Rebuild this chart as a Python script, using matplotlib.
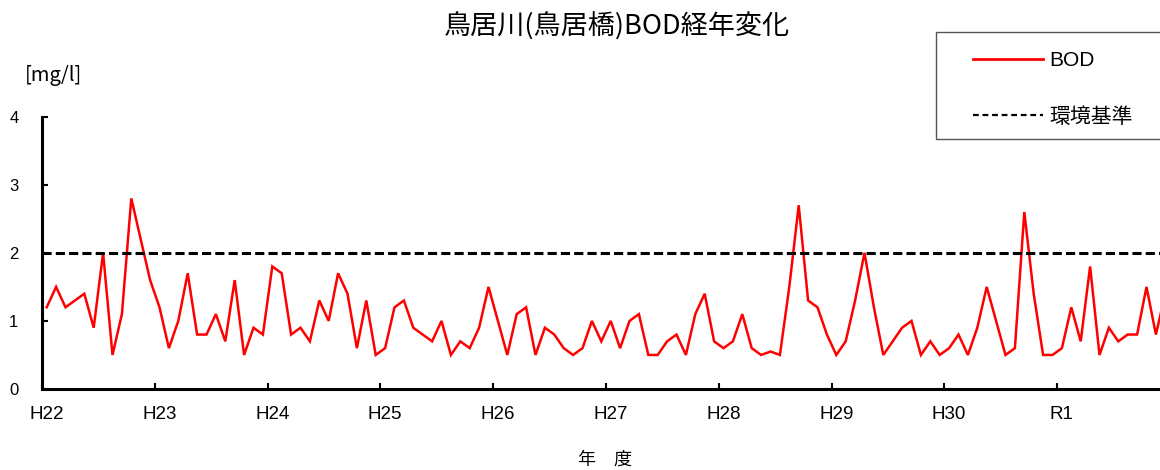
import matplotlib
matplotlib.use("Agg")
import matplotlib.pyplot as plt
from matplotlib.patches import Rectangle

plt.rcParams['font.family'] = ['Liberation Sans', 'Noto Sans CJK JP']

# ---- data ----
year_labels = ["H22", "H23", "H24", "H25", "H26", "H27", "H28", "H29", "H30", "R1"]
bod = [
    1.2, 1.5, 1.2, 1.3, 1.4, 0.9, 2.0, 0.5, 1.1, 2.8, 2.2, 1.6,   # H22
    1.2, 0.6, 1.0, 1.7, 0.8, 0.8, 1.1, 0.7, 1.6, 0.5, 0.9, 0.8,   # H23
    1.8, 1.7, 0.8, 0.9, 0.7, 1.3, 1.0, 1.7, 1.4, 0.6, 1.3, 0.5,   # H24
    0.6, 1.2, 1.3, 0.9, 0.8, 0.7, 1.0, 0.5, 0.7, 0.6, 0.9, 1.5,   # H25
    1.0, 0.5, 1.1, 1.2, 0.5, 0.9, 0.8, 0.6, 0.5, 0.6, 1.0, 0.7,   # H26
    1.0, 0.6, 1.0, 1.1, 0.5, 0.5, 0.7, 0.8, 0.5, 1.1, 1.4, 0.7,   # H27
    0.6, 0.7, 1.1, 0.6, 0.5, 0.55, 0.5, 1.5, 2.7, 1.3, 1.2, 0.8,  # H28
    0.5, 0.7, 1.3, 2.0, 1.2, 0.5, 0.7, 0.9, 1.0, 0.5, 0.7, 0.5,   # H29
    0.6, 0.8, 0.5, 0.9, 1.5, 1.0, 0.5, 0.6, 2.6, 1.4, 0.5, 0.5,   # H30
    0.6, 1.2, 0.7, 1.8, 0.5, 0.9, 0.7, 0.8, 0.8, 1.5, 0.8, 1.4,   # R1
]
standard = 2.0
months_per_year = 12

W, H = 1160, 470
fig = plt.figure(figsize=(W / 100, H / 100), dpi=100)

ax_left, ax_bottom = 42, 389
ax_w, ax_h = 1128, 272.3
ax = fig.add_axes([ax_left / W, (H - ax_bottom) / H, ax_w / W, ax_h / H])

n = len(bod)
x = list(range(n))
line_bod, = ax.plot(x, bod, color='#FF0000', lw=1.8, label='BOD', solid_joinstyle='miter')
line_std, = ax.plot([-0.5, n - 0.5], [standard, standard], color='black', lw=2.2,
                    dashes=(3.0, 1.35), label='環境基準')

ax.set_xlim(-0.5, n - 0.5)
ax.set_ylim(0, 4)

for s in ['top', 'right']:
    ax.spines[s].set_visible(False)
for s in ['left', 'bottom']:
    ax.spines[s].set_linewidth(2.2)

# year boundaries as major ticks (marks only), year labels as minor ticks
nyears = len(year_labels)
ax.set_xticks([-0.5 + months_per_year * k for k in range(nyears + 1)])
ax.set_xticklabels([])
ax.set_xticks([months_per_year * k for k in range(nyears)], minor=True)
ax.set_xticklabels(year_labels, minor=True)
ax.tick_params(axis='x', which='major', direction='in', length=4, width=1.5)
ax.tick_params(axis='x', which='minor', length=0, pad=12, labelsize=13.5)

ax.set_yticks([0, 1, 2, 3, 4])
ax.tick_params(axis='y', direction='in', length=4, width=1.5, pad=17, labelsize=12)

# title and axis texts
fig.text(617 / W, 1 - 27 / H, '鳥居川(鳥居橋)BOD経年変化', ha='center', va='center',
         fontsize=19.5, family=['Noto Sans CJK JP', 'DejaVu Sans'])
fig.text(25 / W, 1 - 76 / H, '[mg/l]', ha='left', va='center', fontsize=14.5,
         family=['Noto Sans CJK JP', 'DejaVu Sans'])
fig.text(605 / W, 1 - 460 / H, '年\u3000度', ha='center', va='center', fontsize=13,
         family=['Noto Sans CJK JP', 'DejaVu Sans'])

# legend
leg = fig.legend([line_bod, line_std], ['BOD', '環境基準'], loc='upper left',
                 bbox_to_anchor=(973 / W, 1 - 51.5 / H), frameon=False, borderpad=0,
                 borderaxespad=0, handlelength=3.36, handletextpad=0.29,
                 labelspacing=1.76, fontsize=15)
leg_lines = leg.get_lines()
leg_lines[0].set_linewidth(2.0)
leg_lines[1].set_linewidth(1.6)
leg_lines[1].set_dashes((2.6, 1.7))
fig.patches.append(Rectangle((936 / W, 1 - 139 / H), 300 / W, 107 / H,
                             transform=fig.transFigure, fill=False,
                             edgecolor='#555555', lw=1.0))

fig.savefig('out.png', dpi=100)
